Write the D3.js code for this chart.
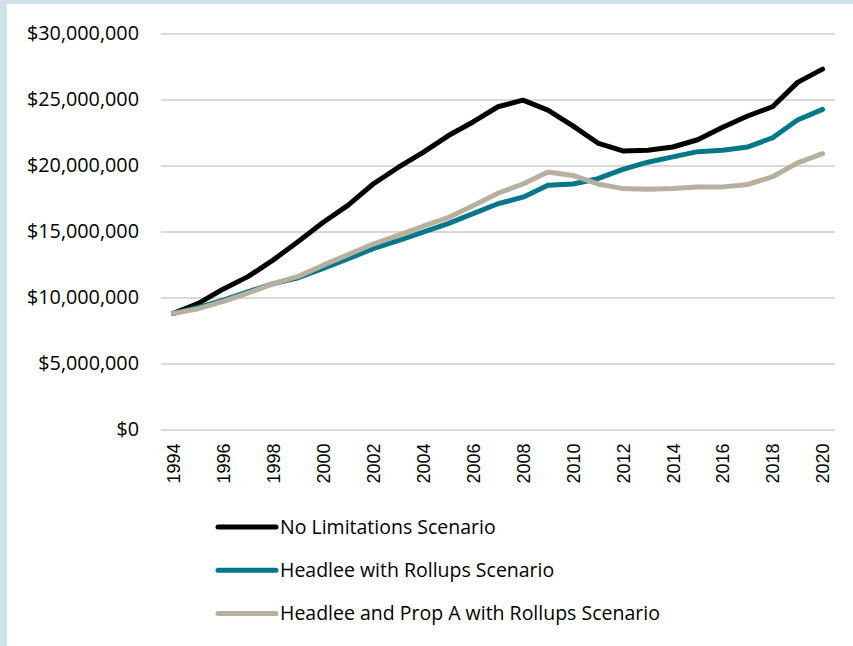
<!DOCTYPE html>
<html>
<head>
<meta charset="utf-8">
<script src="https://cdn.jsdelivr.net/npm/d3@7"></script>
<style>
  body { margin: 0; background: #fff; }
  .ytick text { font-family: "Open Sans", sans-serif; font-size: 19.8px; fill: #000; }
  .xtick text { font-family: "Liberation Sans", Arial, sans-serif; font-size: 18px; fill: #000; }
  .legend text { font-family: "Open Sans", sans-serif; font-size: 19.5px; fill: #000; }
</style>
</head>
<body>
<svg width="853" height="646"></svg>
<script>
const svg = d3.select("svg");
const width = +svg.attr("width");
const height = +svg.attr("height");

// Data (values in dollars, millions)
const years = d3.range(1994, 2021);
const noLimits = [8.8, 9.55, 10.65, 11.6, 12.85, 14.25, 15.7, 17.0, 18.6, 19.85, 21.0, 22.25, 23.3, 24.45, 24.95,
  24.2, 23.0, 21.7, 21.1, 21.15, 21.4, 21.95, 22.9, 23.75, 24.45, 26.3, 27.3];
const headlee = [8.8, 9.25, 9.8, 10.45, 11.05, 11.5, 12.2, 12.95, 13.7, 14.3, 14.95, 15.6, 16.35, 17.1, 17.6,
  18.5, 18.6, 19.0, 19.7, 20.25, 20.65, 21.05, 21.15, 21.4, 22.1, 23.45, 24.25];
const headleePropA = [8.8, 9.15, 9.7, 10.35, 11.05, 11.6, 12.45, 13.25, 14.05, 14.7, 15.4, 16.05, 16.95, 17.9, 18.6,
  19.5, 19.25, 18.6, 18.25, 18.2, 18.25, 18.38, 18.38, 18.56, 19.15, 20.2, 20.9];
const seriesNames = ["No Limitations Scenario", "Headlee with Rollups Scenario", "Headlee and Prop A with Rollups Scenario"];
const yTicks = [0, 5e6, 10e6, 15e6, 20e6, 25e6, 30e6];
const xTicks = years.filter(d => d % 2 === 0);

const colors = ["#000000", "#00788a", "#b7b09c"];
const series = [noLimits, headlee, headleePropA].map((vals, i) => ({
  name: seriesNames[i],
  color: colors[i],
  values: vals.map((v, j) => ({year: years[j], value: v * 1e6}))
}));

// frame
svg.append("rect").attr("x", 0).attr("y", 0).attr("width", width).attr("height", 4).attr("fill", "#cde3e8");
svg.append("rect").attr("x", 0).attr("y", 0).attr("width", 7).attr("height", height).attr("fill", "#cde3e8");

const plotLeft = 161, plotRight = 835;
const x = d3.scalePoint().domain(years).range([plotLeft, plotRight]).padding(0.5);
const y = d3.scaleLinear().domain([0, 30e6]).range([429.5, 33.5]);

// y axis with gridlines
const yAxisG = svg.append("g")
  .attr("class", "ytick")
  .attr("transform", `translate(${plotLeft},0)`)
  .call(d3.axisLeft(y)
    .tickValues(yTicks)
    .tickSize(-(plotRight - plotLeft))
    .tickPadding(22)
    .tickFormat(d => "$" + d3.format(",")(d)));
yAxisG.select(".domain").remove();
yAxisG.selectAll("line").attr("stroke", "#d9d9d9").attr("stroke-width", 2);

// x axis
const xAxisG = svg.append("g")
  .attr("class", "xtick")
  .attr("transform", `translate(0,${y(0)})`)
  .call(d3.axisBottom(x).tickValues(xTicks).tickSize(0));
xAxisG.select(".domain").remove();
xAxisG.selectAll("text")
  .attr("transform", "rotate(-90)")
  .attr("x", -14)
  .attr("y", 0)
  .attr("dy", "0.35em")
  .attr("text-anchor", "end");

// lines
const line = d3.line()
  .x(d => x(d.year))
  .y(d => y(d.value));

svg.selectAll(".series")
  .data(series)
  .join("path")
  .attr("class", "series")
  .attr("fill", "none")
  .attr("stroke", d => d.color)
  .attr("stroke-width", 5)
  .attr("stroke-linecap", "round")
  .attr("stroke-linejoin", "round")
  .attr("d", d => line(d.values));

// legend
const legend = svg.append("g").attr("class", "legend").attr("transform", "translate(218,527)");
series.forEach((s, i) => {
  const row = legend.append("g").attr("transform", `translate(0,${i * 43.3})`);
  row.append("line")
    .attr("x1", 0).attr("x2", 58)
    .attr("y1", 0).attr("y2", 0)
    .attr("stroke", s.color)
    .attr("stroke-width", 5)
    .attr("stroke-linecap", "round");
  row.append("text")
    .attr("x", 62)
    .attr("y", 0)
    .attr("dy", "0.35em")
    .text(s.name);
});
</script>
</body>
</html>
